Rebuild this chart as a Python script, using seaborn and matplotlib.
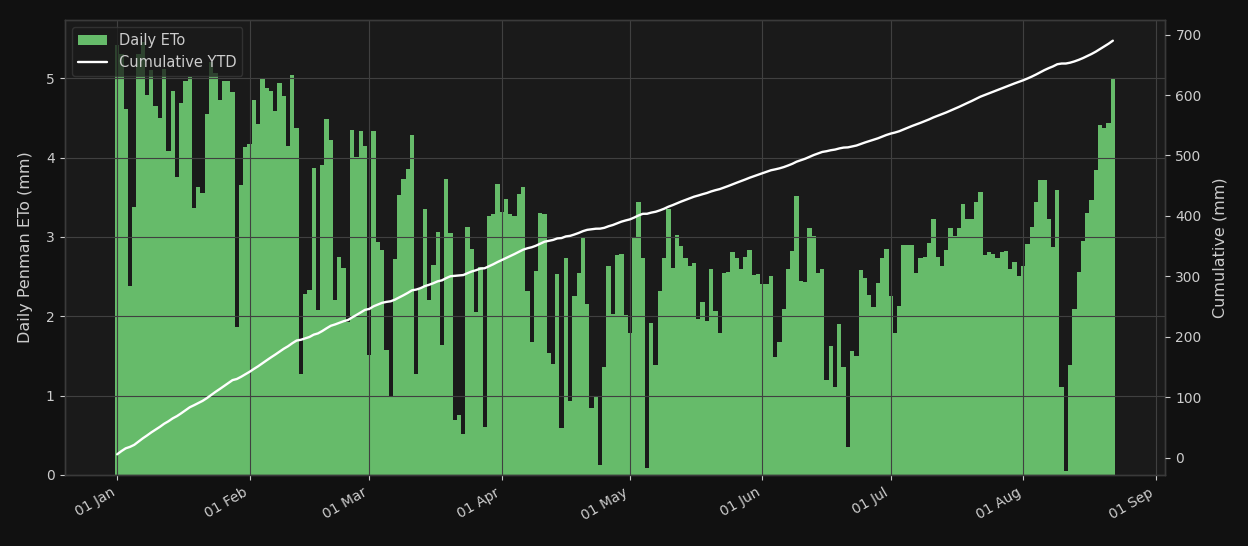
import numpy as np
import pandas as pd
import matplotlib
matplotlib.use("Agg")
import matplotlib.pyplot as plt
import matplotlib.dates as mdates
import seaborn as sns

# ---- data -------------------------------------------------------------
start_date = "2025-01-01"
eto = [
    5.42, 5.30, 4.61, 2.38, 3.38, 5.30, 5.46, 4.79, 5.10, 4.65,
    4.50, 5.11, 4.08, 4.84, 3.75, 4.69, 4.96, 5.01, 3.37, 3.63,
    3.55, 4.55, 5.20, 5.07, 4.73, 4.97, 4.97, 4.83, 1.86, 3.65,
    4.13, 4.17, 4.73, 4.42, 4.99, 4.87, 4.84, 4.59, 4.94, 4.77,
    4.14, 5.04, 4.37, 1.27, 2.28, 2.33, 3.87, 2.08, 3.91, 4.49,
    4.22, 2.21, 2.75, 2.61, 1.93, 4.35, 4.01, 4.34, 4.14, 1.51,
    4.34, 2.93, 2.83, 1.57, 1.00, 2.72, 3.53, 3.73, 3.86, 4.29,
    1.27, 2.35, 3.35, 2.21, 2.65, 3.06, 1.64, 3.73, 3.05, 0.69,
    0.76, 0.52, 3.13, 2.85, 2.06, 2.62, 0.61, 3.26, 3.29, 3.67,
    3.31, 3.48, 3.29, 3.26, 3.54, 3.63, 2.32, 1.68, 2.57, 3.30,
    3.29, 1.54, 1.40, 2.53, 0.59, 2.73, 0.93, 2.25, 2.54, 3.00,
    2.16, 0.85, 1.00, 0.12, 1.36, 2.63, 2.03, 2.77, 2.78, 2.02,
    1.79, 3.00, 3.44, 2.73, 0.09, 1.92, 1.38, 2.32, 2.73, 3.35,
    2.61, 3.03, 2.89, 2.73, 2.63, 2.67, 1.97, 2.18, 1.94, 2.59,
    2.07, 1.79, 2.54, 2.56, 2.81, 2.73, 2.59, 2.75, 2.84, 2.52,
    2.53, 2.41, 2.41, 2.51, 1.49, 1.68, 2.09, 2.59, 2.82, 3.52,
    2.44, 2.43, 3.11, 3.01, 2.54, 2.59, 1.20, 1.63, 1.11, 1.90,
    1.36, 0.35, 1.56, 1.50, 2.58, 2.48, 2.27, 2.12, 2.42, 2.73,
    2.85, 2.25, 1.79, 2.13, 2.90, 2.90, 2.90, 2.54, 2.73, 2.75,
    2.92, 3.23, 2.75, 2.63, 2.84, 3.11, 3.01, 3.11, 3.42, 3.22,
    3.23, 3.44, 3.56, 2.77, 2.81, 2.78, 2.73, 2.81, 2.82, 2.59,
    2.68, 2.51, 2.63, 2.91, 3.13, 3.44, 3.72, 3.72, 3.23, 2.87,
    3.59, 1.11, 0.05, 1.39, 2.09, 2.56, 2.95, 3.30, 3.46, 3.84,
    4.41, 4.37, 4.43, 4.99,
]
bar_label = "Daily ETo"
line_label = "Cumulative YTD"
left_ylabel = "Daily Penman ETo (mm)"
right_ylabel = "Cumulative (mm)"

dates = pd.date_range(start_date, periods=len(eto), freq="D")
df = pd.DataFrame({"date": dates, "eto": eto})
df["cum"] = df["eto"].cumsum()

# ---- style ------------------------------------------------------------
BG_FIG = "#111111"
BG_AX = "#1a1a1a"
TXT = "#cccccc"
GRID = "#404040"
SPINE = "#3a3a3a"
GREEN = "#66bb6a"

sns.set_theme(style="darkgrid")
plt.rcParams.update({
    "font.family": ["DejaVu Sans"],
    "axes.axisbelow": False,
    "xtick.color": TXT,
    "ytick.color": TXT,
    "axes.labelcolor": TXT,
    "text.color": TXT,
})

fig = plt.figure(figsize=(12.48, 5.46), dpi=100, facecolor=BG_FIG)
ax = fig.add_axes([65 / 1248, 1 - 475 / 546, 1100 / 1248, 455 / 546])
ax.set_facecolor(BG_AX)

bars = ax.bar(df["date"], df["eto"], width=1.0, color=GREEN,
              linewidth=0, label=bar_label, zorder=1)

ax2 = ax.twinx()
sns.lineplot(data=df, x="date", y="cum", ax=ax2, color="white",
             linewidth=1.7, legend=False)
line = ax2.get_lines()[0]
line.set_label(line_label)

# grid & spines
ax.grid(True, color=GRID, linewidth=0.8, zorder=2)
ax2.grid(False)
for a in (ax, ax2):
    for s in a.spines.values():
        s.set_visible(True)
        s.set_color(SPINE)
        s.set_linewidth(1.0)

# axes formatting
ax.xaxis.set_major_locator(mdates.MonthLocator())
ax.xaxis.set_major_formatter(mdates.DateFormatter("%d %b"))
ax.tick_params(axis="both", which="major", length=3.5, width=0.8,
               color=TXT, labelsize=10, labelcolor=TXT, pad=4,
               bottom=True, left=True)
ax2.tick_params(axis="y", length=3.5, width=0.8, color=TXT,
                labelsize=10, labelcolor=TXT, pad=4, right=True)
for lbl in ax.get_xticklabels():
    lbl.set_rotation(30)
    lbl.set_ha("right")
    lbl.set_rotation_mode("default")

ax.set_xlabel("")
ax2.set_xlabel("")
ax.set_ylabel(left_ylabel, fontsize=11.5, color=TXT, labelpad=9)
ax2.set_ylabel(right_ylabel, fontsize=11.5, color=TXT, labelpad=8)

leg = ax2.legend([bars, line], [bar_label, line_label], loc="upper left",
                 fontsize=10.5, facecolor=BG_AX, edgecolor=SPINE,
                 framealpha=0.75, labelcolor=TXT)

fig.savefig("out.png", dpi=100, facecolor=BG_FIG)
